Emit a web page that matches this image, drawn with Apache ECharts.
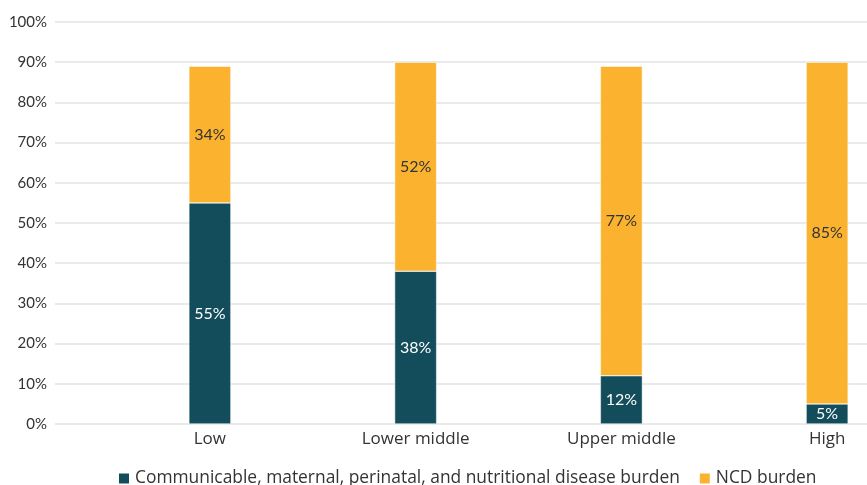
<!DOCTYPE html>
<html><head><meta charset="utf-8">
<script src="https://cdn.jsdelivr.net/npm/echarts@6/dist/echarts.min.js"></script>
<style>html,body{margin:0;padding:0;background:#fff}#c{width:867px;height:485px}</style>
</head><body><div id="c"></div>
<script>
const categories = ['Low', 'Lower middle', 'Upper middle', 'High'];
const communicable = [55, 38, 12, 5];
const ncd = [34, 52, 77, 85];
const yTicks = [0, 10, 20, 30, 40, 50, 60, 70, 80, 90, 100];
const seriesNames = ['Communicable, maternal, perinatal, and nutritional disease burden', 'NCD burden'];

const FONT = 'Lato';
const FONT2 = 'Open Sans';
const chart = echarts.init(document.getElementById('c'));
chart.setOption({
  animation: false,
  textStyle: { fontFamily: FONT },
  grid: [
    { left: 55, right: 0, top: 22, bottom: 61 },
    { left: 107, right: -63, top: 22, bottom: 61, outerBoundsMode: 'none', containLabel: false }
  ],
  xAxis: [
    { gridIndex: 0, type: 'value', show: false, min: 0, max: 1 },
    { gridIndex: 1, type: 'category', data: categories,
      axisLine: { show: false }, axisTick: { show: false },
      axisLabel: { color: '#333', fontSize: 17, margin: 7, fontFamily: FONT2 } }
  ],
  yAxis: [
    { gridIndex: 0, type: 'value', min: yTicks[0], max: yTicks[yTicks.length - 1], interval: 10,
      axisLine: { show: false }, axisTick: { show: false },
      axisLabel: { color: '#333', fontSize: 15, margin: 8, formatter: '{value}%', fontFamily: FONT },
      splitLine: { lineStyle: { color: '#e3e3e3', width: 1.5 } } },
    { gridIndex: 1, type: 'value', min: 0, max: 100, show: false, splitLine: { show: false } }
  ],
  legend: {
    left: 112, top: 465, itemWidth: 12, itemHeight: 12, itemGap: 18,
    icon: 'rect',
    textStyle: { color: '#333', fontSize: 17.4, fontFamily: FONT2 },
    data: seriesNames
  },
  series: [
    { name: seriesNames[0], type: 'bar', stack: 'a', xAxisIndex: 1, yAxisIndex: 1,
      barWidth: 42, data: communicable,
      itemStyle: { color: '#134d5c', borderColor: '#ffffff', borderWidth: 0.5 },
      label: { show: true, position: 'inside', color: '#fff', fontSize: 16, formatter: '{c}%', fontFamily: FONT } },
    { name: seriesNames[1], type: 'bar', stack: 'a', xAxisIndex: 1, yAxisIndex: 1,
      barWidth: 42, data: ncd,
      itemStyle: { color: '#fbb32f', borderColor: '#ffffff', borderWidth: 0.5 },
      label: { show: true, position: 'inside', color: '#333', fontSize: 16, formatter: '{c}%', fontFamily: FONT } }
  ]
});
</script></body></html>
